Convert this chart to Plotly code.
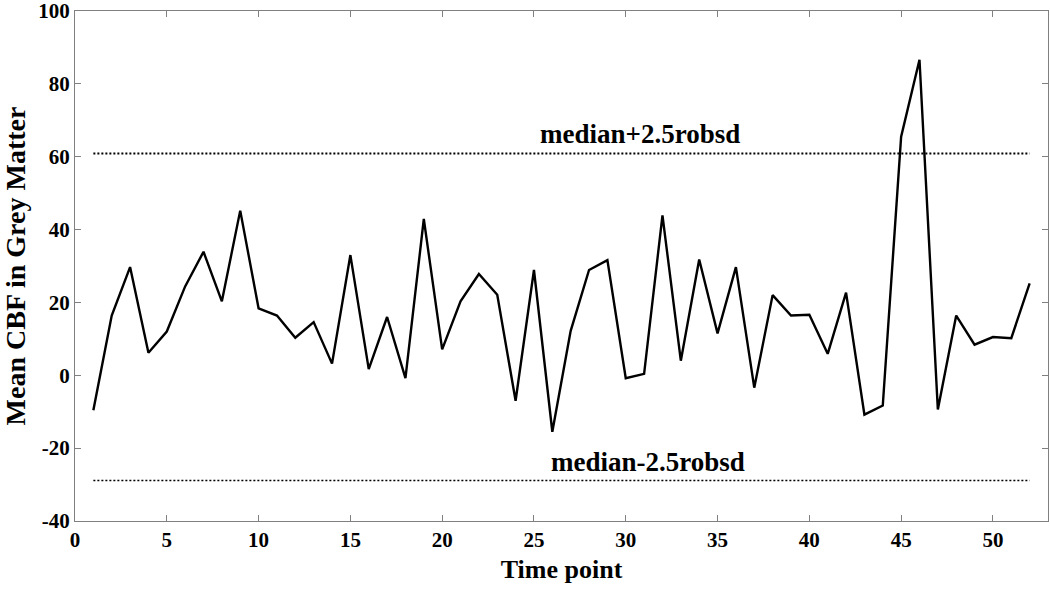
import plotly.graph_objects as go

time_points = list(range(1, 53))
mean_cbf = [-9.6, 16.4, 29.7, 6.2, 12.0, 24.4, 33.9, 20.3, 45.2, 18.4,
            16.4, 10.3, 14.6, 3.2, 33.0, 1.7, 16.0, -0.8, 42.9, 7.1,
            20.3, 27.8, 22.1, -7.0, 28.9, -15.5, 12.2, 28.9, 31.6, -0.8,
            0.4, 43.9, 4.0, 31.8, 11.5, 29.7, -3.4, 22.0, 16.4, 16.6,
            5.9, 22.7, -10.8, -8.3, 65.5, 86.6, -9.4, 16.4, 8.4, 10.5,
            10.2, 25.2]

upper_limit = 60.9
lower_limit = -28.9
upper_label = "median+2.5robsd"
lower_label = "median-2.5robsd"

font_family = "Liberation Serif, Times New Roman, serif"

fig = go.Figure()

fig.add_trace(go.Scatter(
    x=time_points, y=mean_cbf, mode="lines",
    line=dict(color="black", width=2.4), showlegend=False))

fig.add_trace(go.Scatter(
    x=[time_points[0], time_points[-1]], y=[upper_limit, upper_limit], mode="lines",
    line=dict(color="black", width=2, dash="2px,2px"), showlegend=False))
fig.add_trace(go.Scatter(
    x=[time_points[0], time_points[-1]], y=[lower_limit, lower_limit], mode="lines",
    line=dict(color="black", width=1.6, dash="2px,2px"), showlegend=False))

fig.add_annotation(x=30.8, y=upper_limit, text="<b>" + upper_label + "</b>",
                   showarrow=False, yanchor="bottom", yshift=2,
                   font=dict(family=font_family, size=27, color="black"))
fig.add_annotation(x=31.2, y=lower_limit, text="<b>" + lower_label + "</b>",
                   showarrow=False, yanchor="bottom", yshift=2,
                   font=dict(family=font_family, size=27, color="black"))

axis_style = dict(
    showline=True, linecolor="#808080", linewidth=1.2, mirror="ticks",
    ticks="inside", ticklen=6, tickcolor="#808080", showgrid=False, zeroline=False,
    tickfont=dict(family=font_family, size=21, color="black"),
    automargin=False, ticklabeloverflow="allow",
)

fig.update_xaxes(range=[0, 53], tickvals=[0, 5, 10, 15, 20, 25, 30, 35, 40, 45, 50],
                 ticktext=["<b>%d</b>" % v for v in range(0, 51, 5)],
                 title=dict(text="<b>Time point</b>", standoff=8,
                            font=dict(family=font_family, size=26, color="black")),
                 **axis_style)
fig.update_yaxes(range=[-40, 100], tickvals=list(range(-40, 101, 20)),
                 ticktext=["<b>%d</b>" % v for v in range(-40, 101, 20)],
                 title=dict(text="<b>Mean CBF in Grey Matter</b>", standoff=4,
                            font=dict(family=font_family, size=28, color="black")),
                 **axis_style)

fig.update_layout(
    width=1050, height=590,
    margin=dict(l=75, r=2, t=11, b=69),
    plot_bgcolor="white", paper_bgcolor="white",
)

# page body has a default 8px margin; drop it so the figure sits at 0,0
fig.write_html("out.html", config={"displayModeBar": False},
               post_script="document.body.style.margin='0';")
